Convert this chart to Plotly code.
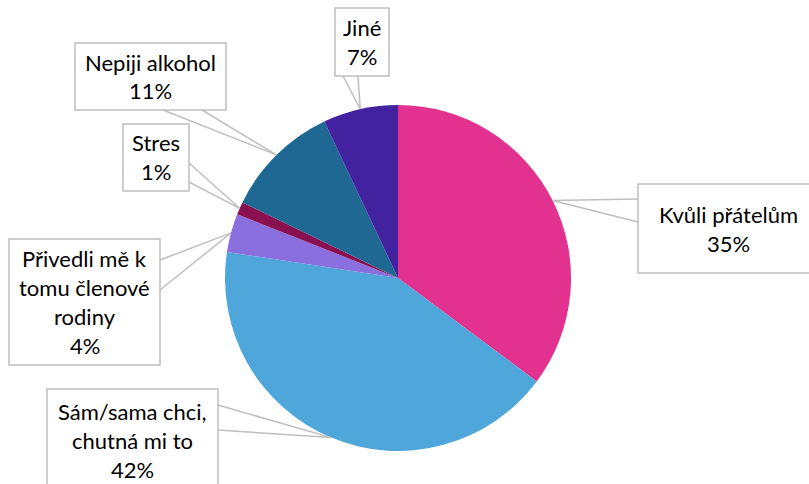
import math
import plotly.graph_objects as go

# data
categories = ["Kvůli přátelům", "Sám/sama chci, chutná mi to",
              "Přivedli mě k tomu členové rodiny", "Stres",
              "Nepiji alkohol", "Jiné"]
shares = [35.2, 42.2, 3.6, 1.2, 10.8, 7.0]
label_lines = [["Kvůli přátelům"],
               ["Sám/sama chci,", "chutná mi to"],
               ["Přivedli mě k", "tomu členové", "rodiny"],
               ["Stres"],
               ["Nepiji alkohol"],
               ["Jiné"]]
colors = ["#E3318F", "#4FA6DA", "#8A70DF", "#8B1050", "#206894", "#4322A0"]

W, H = 809, 484
CX, CY, R = 398, 278, 173   # pie centre / radius in pixels

# label boxes (x0, y0, x1, y1) in pixels, plus the two base points of the callout wedge
boxes = [
    ((638, 184, 830, 273), (638, 199), (638, 222)),
    ((47, 389, 218, 492), (218, 405), (218, 430)),
    ((9, 239, 160, 365), (160, 260), (160, 290)),
    ((123, 124, 189, 191), (189, 163), (189, 182)),
    ((75, 43, 226, 110), (163, 110), (202, 110)),
    ((335, 8, 389, 76), (343, 76), (358, 76)),
]
text_x = [728, None, None, None, None, None]

def px(x):
    return x / W

def py(y):
    return 1 - y / H

fig = go.Figure(go.Pie(
    labels=categories, values=shares, sort=False, direction="clockwise",
    rotation=0, marker=dict(colors=colors, line=dict(width=0)),
    textinfo="none", hoverinfo="label+percent", showlegend=False,
    domain=dict(x=[px(CX - R), px(CX + R)], y=[py(CY + R), py(CY - R)]),
))

shapes = []
annotations = []
total = sum(shares)
cum = 0
LINE_H = 29
for i, v in enumerate(shares):
    mid = (cum + v / 2) / total * 2 * math.pi
    cum += v
    ax = CX + R * math.sin(mid)
    ay = CY - R * math.cos(mid)
    (x0, y0, x1, y1), b1, b2 = boxes[i]
    # callout wedge
    shapes.append(dict(
        type="path", xref="paper", yref="paper",
        path="M {} {} L {} {} L {} {}".format(px(b1[0]), py(b1[1]), px(ax), py(ay),
                                             px(b2[0]), py(b2[1])),
        line=dict(color="#BFBFBF", width=1.5), fillcolor="rgba(0,0,0,0)"))
    shapes.append(dict(
        type="rect", xref="paper", yref="paper",
        x0=px(x0), x1=px(x1), y0=py(y1), y1=py(y0),
        line=dict(color="#BFBFBF", width=1.5), fillcolor="white"))
    lines = label_lines[i] + ["{}%".format(round(v))]
    n = len(lines)
    cx = text_x[i] if text_x[i] is not None else (x0 + x1) / 2
    cy = (y0 + y1) / 2
    for k, t in enumerate(lines):
        ty = cy + (k - (n - 1) / 2) * LINE_H
        annotations.append(dict(
            x=px(cx), y=py(ty), xref="paper", yref="paper", text=t,
            showarrow=False, xanchor="center", yanchor="middle",
            font=dict(family="Lato", size=22, color="#000000")))

fig.update_layout(
    width=W, height=H, margin=dict(l=0, r=0, t=0, b=0),
    paper_bgcolor="white", plot_bgcolor="white",
    shapes=shapes, annotations=annotations,
)

fig.write_html("out.html", config={"displayModeBar": False},
               post_script="document.body.style.margin='0';")
